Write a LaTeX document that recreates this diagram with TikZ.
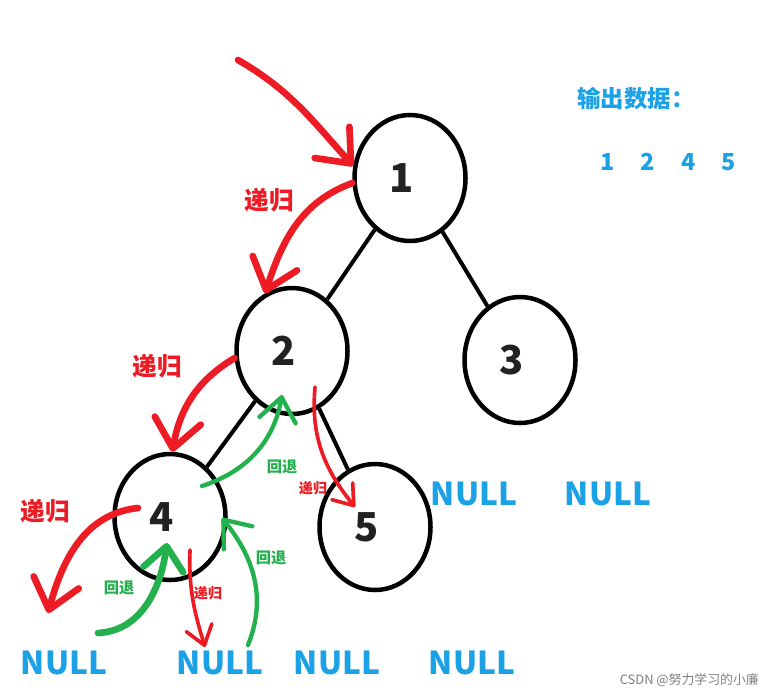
\documentclass[tikz,border=0pt]{standalone}
\usepackage{fontspec}
\setmainfont{Noto Sans CJK SC}
\usepackage{xcolor}
\usepackage{tikz}
\usetikzlibrary{arrows.meta, shapes.geometric}

\definecolor{paintred}{HTML}{ED1C24}
\definecolor{paintgreen}{HTML}{22B14C}
\definecolor{nullblue}{HTML}{1BA1E6}
\definecolor{digitgray}{HTML}{222222}

\begin{document}
\begin{tikzpicture}[x=0.03cm, y=-0.03cm,
    tree/.style={ellipse, draw=black, line width=0.135cm, minimum width=3.33cm, minimum height=3.78cm, inner sep=0pt, text=digitgray, font=\fontsize{34}{34}\selectfont\bfseries, execute at begin node={\hspace*{-0.48cm}}},
    branch/.style={draw=black, line width=0.12cm},
    nul/.style={text=nullblue, font=\fontsize{27}{27}\selectfont\bfseries, inner sep=0pt},
    redtxt/.style={text=paintred, font=\fontsize{21}{21}\selectfont\bfseries, inner sep=0pt},
    redsmall/.style={text=paintred, font=\fontsize{12}{12}\selectfont\bfseries, inner sep=0pt},
    greensmall/.style={text=paintgreen, font=\fontsize{13}{13}\selectfont\bfseries, inner sep=0pt},
    outtxt/.style={text=nullblue, font=\fontsize{20}{20}\selectfont\bfseries, inner sep=0pt},
    recur/.style={draw=paintred, line width=0.2cm, line cap=round, -{Straight Barb[length=0.85cm, width=1.4cm, round]}},
    recurthin/.style={draw=paintred, line width=0.11cm, line cap=round, -{Straight Barb[length=0.55cm, width=0.8cm, round]}},
    back/.style={draw=paintgreen, line width=0.13cm, line cap=round, -{Straight Barb[length=0.7cm, width=1.1cm, round]}},
    backthick/.style={draw=paintgreen, line width=0.2cm, line cap=round, -{Straight Barb[length=0.7cm, width=1.2cm, round]}}]
  \useasboundingbox (0,0) rectangle (767,694);

  \node[tree] (n1) at (410,178) {1};
  \node[tree] (n2) at (292,351) {2};
  \node[tree] (n3) at (520,360) {3};
  \node[tree] (n4) at (170,517) {4};
  \node[tree] (n5) at (375,527) {5};
%
  \draw[branch] (n1) -- (n2);
  \draw[branch] (n1) -- (n3);
  \draw[branch] (n2) -- (n4);
  \draw[branch] (n2) -- (n5);

  \node[nul] (n3l) at (474,494) {NULL};
  \node[nul] (n3r) at (608,494) {NULL};
  \node[nul] (n4l) at (64,663) {NULL};
  \node[nul] (n4r) at (220,663) {NULL};
  \node[nul] (n5l) at (337,663) {NULL};
  \node[nul] (n5r) at (472,663) {NULL};

  \node[outtxt] (title) at (636,99) {输出数据：};
  \node[outtxt] (seq) at (668,162) {1\hspace{0.78cm}2\hspace{0.78cm}4\hspace{0.78cm}5};

  % free ends of the hand drawn arrows
  \coordinate (go) at (238,60);
  \coordinate (s4) at (138,508);
  \coordinate (e4l) at (48,613);
  \coordinate (s5) at (315,387);
  \coordinate (e5) at (355,507);
  \coordinate (s4r) at (190,550);
  \coordinate (e4r) at (205,647);
  \coordinate (b4) at (202,486);
  \coordinate (b2) at (282,395);
  \coordinate (bn4r) at (248,645);
  \coordinate (b4r) at (222,518);
  \coordinate (bn4l) at (98,633);
  \coordinate (b4l) at (167,543);

  \path
    (go) edge[recur, out=-30, in=132] (n1.168)
    (n1.185) edge[recur, out=200, in=72] (n2.115)
    (n2.187) edge[recur, out=211, in=80] (n4.88)
    (s4) edge[recur, out=186, in=75] (e4l)
    (s5) edge[recurthin, out=265, in=129] (e5)
    (s4r) edge[recurthin, out=268, in=107] (e4r);
  \path
    (b4) edge[back, out=18, in=260] (b2)
    (bn4r) edge[back, out=68, in=309] (b4r)
    (bn4l) edge[backthick, out=3, in=262] (b4l);

  \node[redtxt] (r1) at (269,200) {递归};
  \node[redtxt] (r2) at (157,366) {递归};
  \node[redtxt] (r4) at (45,511) {递归};
  \node[redsmall] (r5) at (313,488) {递归};
  \node[redsmall] (r4r) at (208,593) {递归};
  \node[greensmall] (g2) at (282,467) {回退};
  \node[greensmall] (g4r) at (271,558) {回退};
  \node[greensmall] (g4l) at (119,588) {回退};

  \node[text=gray, font=\fontsize{11}{11}\selectfont, anchor=east] (mark) at (763,680) {CSDN @努力学习的小廉};
\end{tikzpicture}
\end{document}
